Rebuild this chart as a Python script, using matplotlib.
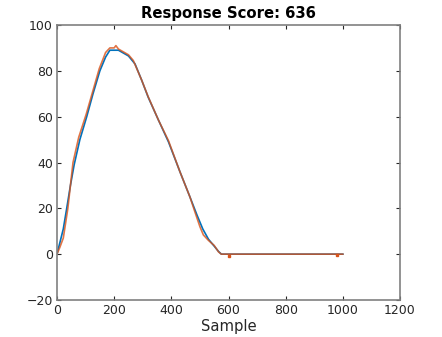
import matplotlib
matplotlib.use("Agg")
import matplotlib.pyplot as plt

blue_x = [0, 10, 22, 34, 47, 60, 80, 104, 126, 150, 170, 185, 215, 250, 273, 296, 319, 355, 390, 430, 465, 490, 510, 530, 550, 565, 575, 1000]
blue_y = [0, 5, 11, 20, 30, 39, 50, 60, 70, 80, 86, 89, 89, 86.5, 83, 76, 68.5, 58.5, 49, 36, 25, 17, 11, 6.5, 3.5, 1.2, 0, 0]

orange_x = [0, 10, 22, 38, 47, 56, 76, 102, 125, 148, 170, 185, 200, 206, 215, 250, 267, 296, 319, 355, 390, 430, 465, 485, 500, 512, 530, 550, 565, 575, 1000]
orange_y = [0, 3, 7, 20, 30, 40, 51, 61, 71, 81, 88, 90, 90, 91, 89.5, 87, 84.5, 76, 68.7, 58.5, 49.5, 36, 25, 17.5, 12, 8.4, 6, 3.8, 1, 0, 0]

dot_x = [600, 980]
dot_y = [-1, -0.5]

title = "Response Score: 636"
xlabel = "Sample"
xticks = [0, 200, 400, 600, 800, 1000, 1200]
yticks = [-20, 0, 20, 40, 60, 80, 100]

fig = plt.figure(figsize=(4.42, 3.37), dpi=100)
ax = fig.add_axes([57/442, 37/337, 343/442, 275/337])
ax.plot(blue_x, blue_y, color="#0072BD", lw=1.2)
ax.plot(orange_x, orange_y, color="#D95319", lw=1.2, alpha=0.8)
ax.plot(dot_x, dot_y, ls="none", marker="s", ms=1.5, color="#D95319")

ax.set_xlim(0, 1200)
ax.set_ylim(-20, 100)
ax.set_xticks(xticks)
ax.set_yticks(yticks)
ax.tick_params(direction="in", top=True, right=True, length=3, labelsize=9, colors="#262626", width=0.8, pad=3)
for s in ax.spines.values():
    s.set_color("#808080")
    s.set_linewidth(1.2)
ax.set_xlabel(xlabel, fontsize=10.6, color="#262626", labelpad=1)
ax.set_title(title, fontsize=10.7, fontweight="bold", pad=5)
fig.savefig("out.png", dpi=100)
